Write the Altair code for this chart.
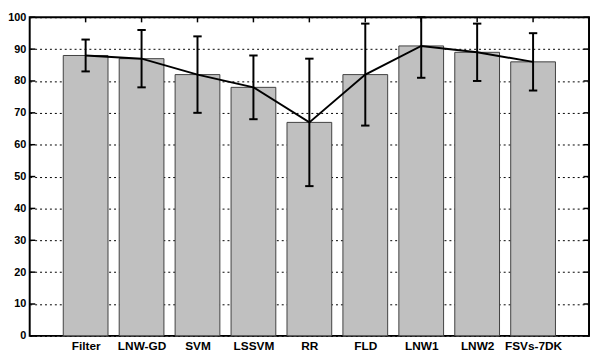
import altair as alt
import pandas as pd

methods = ["Filter", "LNW-GD", "SVM", "LSSVM", "RR", "FLD", "LNW1", "LNW2", "FSVs-7DK"]
positions = [1, 2, 3, 4, 5, 6, 7, 8, 9]
means = [88, 87, 82, 78, 67, 82, 91, 89, 86]
lows = [83, 78, 70, 68, 47, 66, 81, 80, 77]
highs = [93, 96, 94, 88, 87, 98, 100, 98, 95]
y_ticks = [0, 10, 20, 30, 40, 50, 60, 70, 80, 90, 100]

df = pd.DataFrame({"method": methods, "pos": positions, "mean": means, "lo": lows, "hi": highs})
ticks_df = pd.DataFrame({"v": y_ticks})

xs = alt.Scale(domain=[0, 10], nice=False, zero=False)
ys = alt.Scale(domain=[0, 100], nice=False)

label_expr = "[" + ",".join(f"'{m}'" for m in methods) + "]"

x_axis = alt.Axis(values=positions, labelExpr=f"{label_expr}[datum.value-1]",
                  title=None, ticks=False, domain=False, grid=False,
                  labelFont="Liberation Sans", labelFontWeight="bold",
                  labelFontSize=12, labelColor="black", labelPadding=5)
y_axis = alt.Axis(values=y_ticks, title=None, ticks=False, domain=False,
                  grid=True, gridDash=[2, 3], gridColor="black", gridOpacity=1,
                  gridWidth=1,
                  labelFont="Liberation Sans", labelFontWeight="bold",
                  labelFontSize=11, labelColor="black", labelPadding=4)


def X(f):
    return alt.X(f, scale=xs, axis=x_axis)


def Y(f):
    return alt.Y(f, scale=ys, axis=y_axis)


base = alt.Chart(df)

bars = base.transform_calculate(
    x0="datum.pos - 0.4", x1="datum.pos + 0.4", z="0"
).mark_rect(fill="#c0c0c0", stroke="#404040", strokeWidth=1).encode(
    x=X("x0:Q"), x2="x1:Q", y=Y("z:Q"), y2="mean:Q",
)

err = base.mark_rule(color="black", strokeWidth=2).encode(
    x=X("pos:Q"), y=Y("lo:Q"), y2="hi:Q",
)

cap_lo = base.transform_calculate(a="datum.pos - 0.075", b="datum.pos + 0.075").mark_rule(
    color="black", strokeWidth=2).encode(x=X("a:Q"), x2="b:Q", y=Y("lo:Q"))
cap_hi = base.transform_calculate(a="datum.pos - 0.075", b="datum.pos + 0.075").mark_rule(
    color="black", strokeWidth=2).encode(x=X("a:Q"), x2="b:Q", y=Y("hi:Q"))

line = base.mark_line(color="black", strokeWidth=2).encode(x=X("pos:Q"), y=Y("mean:Q"))

top_ticks = base.transform_calculate(t0="100", t1="98.4").mark_rule(
    color="black", strokeWidth=1.5).encode(x=X("pos:Q"), y=Y("t0:Q"), y2="t1:Q")

tdf = alt.Chart(ticks_df)
left_ticks = tdf.transform_calculate(a="0", b="0.1").mark_rule(
    color="black", strokeWidth=1.5).encode(x=X("a:Q"), x2="b:Q", y=Y("v:Q"))
right_ticks = tdf.transform_calculate(a="9.9", b="10").mark_rule(
    color="black", strokeWidth=1.5).encode(x=X("a:Q"), x2="b:Q", y=Y("v:Q"))

chart = alt.layer(bars, err, cap_lo, cap_hi, line, top_ticks, left_ticks, right_ticks).properties(
    width=567, height=323,
    autosize=alt.AutoSizeParams(type="none"),
    padding={"left": 22, "top": 7, "right": 1, "bottom": 16},
    background="white",
).configure_view(stroke="black", strokeWidth=2)

chart.save("out.html", embed_options={"renderer": "svg", "actions": False})
